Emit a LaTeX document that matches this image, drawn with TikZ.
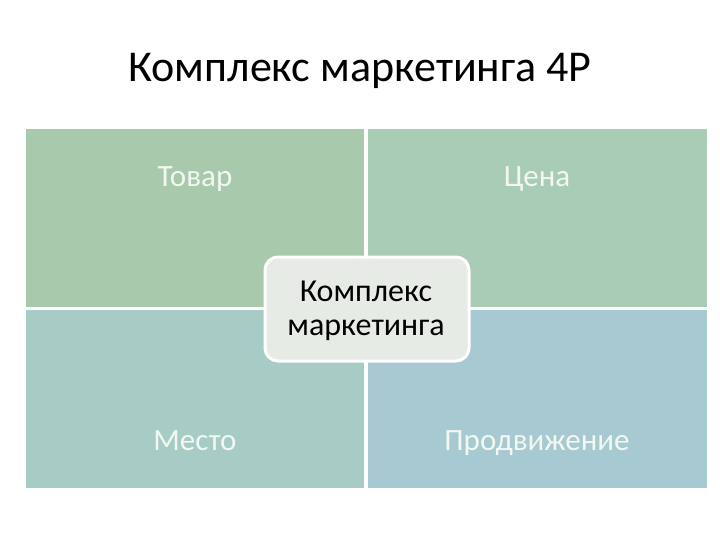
\documentclass[tikz,border=0pt]{standalone}
\usepackage{fontspec}
\setmainfont{Carlito}
\definecolor{qtl}{HTML}{A9C9AD}
\definecolor{qtr}{HTML}{A9CCB6}
\definecolor{qbl}{HTML}{A7CCC6}
\definecolor{qbr}{HTML}{A7C9D1}
\definecolor{cfill}{HTML}{E6ECE5}
\definecolor{ltext}{HTML}{F2F7F1}
\begin{document}
\begin{tikzpicture}[x=1pt,y=-1pt,
  quad/.style={draw=none,inner sep=0pt,anchor=north west},
  qlabel/.style={anchor=base,text=ltext,font=\fontsize{31}{36}\selectfont},
  ctext/.style={anchor=base,font=\fontsize{32}{38}\selectfont},
  cbox/.style={draw=white,line width=3pt,fill=cfill,rounded corners=13pt,inner sep=0pt,minimum width=204pt,minimum height=104pt}]
\useasboundingbox[fill=white] (0,0) rectangle (720,540);
\node[anchor=base] (title) at (360,82) {\fontsize{44}{50}\selectfont Комплекс маркетинга 4P};
\node[quad,fill=qtl,minimum width=338pt,minimum height=178pt] (tl) at (26,129) {};
\node[quad,fill=qtr,minimum width=339pt,minimum height=178pt] (tr) at (368,129) {};
\node[quad,fill=qbl,minimum width=338pt,minimum height=178pt] (bl) at (26,310) {};
\node[quad,fill=qbr,minimum width=339pt,minimum height=178pt] (br) at (368,310) {};
\node[qlabel] (tovar) at (195,187) {Товар};
\node[qlabel] (tsena) at (537,187) {Цена};
\node[qlabel] (mesto) at (195,450) {Место};
\node[qlabel] (prod) at (537,450) {Продвижение};
\node[cbox] (c) at (367,309) {};
\node[ctext] (c1) at (366,301.5) {Комплекс};
\node[ctext] (c2) at (366,335.5) {маркетинга};
\end{tikzpicture}
\end{document}
